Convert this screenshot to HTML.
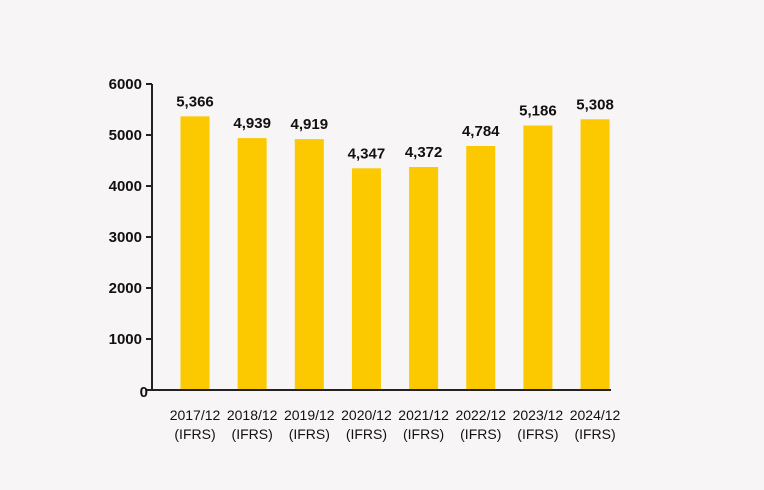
<!DOCTYPE html>
<html><head><meta charset="utf-8"><style>
html,body{margin:0;padding:0;background:#f7f5f5;}
svg{display:block;}
</style></head><body>
<svg id="chart" width="764" height="490" xmlns="http://www.w3.org/2000/svg">
<rect x="0" y="0" width="764" height="490" fill="#f7f5f5"/>
<g id="g"></g>
</svg>
<script>
const categories=["2017/12","2018/12","2019/12","2020/12","2021/12","2022/12","2023/12","2024/12"];
const values=[5366,4939,4919,4347,4372,4784,5186,5308];
const valueLabels=["5,366","4,939","4,919","4,347","4,372","4,784","5,186","5,308"];
const yTicks=[0,1000,2000,3000,4000,5000,6000];
const NS="http://www.w3.org/2000/svg";
const g=document.getElementById('g');
const y0=390,yTop=84,yMax=6000;
function y(v){return y0-(y0-yTop)*v/yMax;}
function x(i){return 195+i*57.15;}
function mk(t,a,txt){const e=document.createElementNS(NS,t);for(const k in a)e.setAttribute(k,a[k]);if(txt!==undefined)e.textContent=txt;g.appendChild(e);return e;}
let ax=mk('path',{d:`M152 ${yTop}V${y0}H611`,stroke:'#222',fill:'none','stroke-width':2});


yTicks.forEach(t=>{
 let l=mk('line',{x1:146,x2:152,y1:y(t),y2:y(t),stroke:'#222','stroke-width':2});
 
 
 let tx=mk('text',{x:t===0?148:142,y:y(t)+(t===0?7:5),'text-anchor':'end','font-family':'Liberation Sans, sans-serif','font-size':15,'font-weight':'bold',fill:'#111'},String(t));
 
 
});
values.forEach((v,i)=>{
 let b=mk('rect',{x:x(i)-14.5,y:y(v),width:29,height:y0-1-y(v),fill:'#fcc800'});
 
 
 let vl=mk('text',{x:x(i),y:y(v)-10,'text-anchor':'middle','font-family':'Liberation Sans, sans-serif','font-size':15,'font-weight':'bold',fill:'#111'},valueLabels[i]);
 
 
 let c1=mk('text',{x:x(i),y:420,'text-anchor':'middle','font-family':'Liberation Sans, sans-serif','font-size':14,fill:'#111'},categories[i]);
 
 
 let c2=mk('text',{x:x(i),y:439,'text-anchor':'middle','font-family':'Liberation Sans, sans-serif','font-size':14,fill:'#111'},'(IFRS)');
 
 
});
</script>
</body></html>
